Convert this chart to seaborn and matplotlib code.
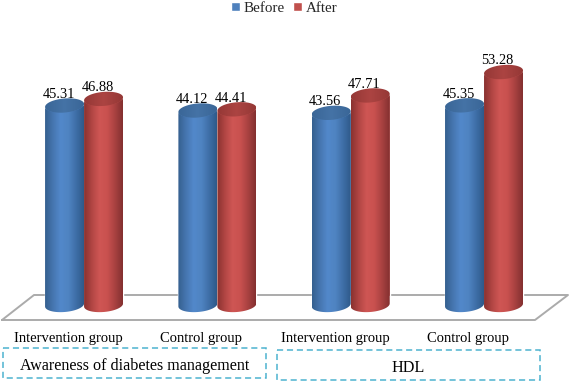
import numpy as np
import pandas as pd
import matplotlib
matplotlib.use("Agg")
import matplotlib.pyplot as plt
import seaborn as sns
from matplotlib.colors import LinearSegmentedColormap
from matplotlib.lines import Line2D
from matplotlib.patches import Polygon, Rectangle
from matplotlib.transforms import Affine2D, ScaledTranslation

groups = ["Intervention group", "Control group", "Intervention group ", "Control group "]
before = [45.31, 44.12, 43.56, 45.35]
after = [46.88, 44.41, 47.71, 53.28]
series = ["Before", "After"]
palette = {"Before": "#4F81BD", "After": "#C0504D"}
box_labels = ["Awareness of diabetes management", "HDL"]

W, H = 569, 381

df = pd.DataFrame({
    "group": groups * 2,
    "value": before + after,
    "series": ["Before"] * 4 + ["After"] * 4,
})

sns.set_theme(style="white")
plt.rcParams["font.family"] = ["Liberation Serif", "DejaVu Serif"]

fig = plt.figure(figsize=(W / 100, H / 100), dpi=100)
# pixel coords (y down) for the decoration
px = Affine2D().scale(1 / W, -1 / H).translate(0, 1) + fig.transFigure

# 4.2 px per unit, 53.28 sits at y=72
top_px, bottom_px = 40, 325
ax = fig.add_axes([17.4 / W, 1 - bottom_px / H, 533.3 / W, (bottom_px - top_px) / H])
ax.patch.set_visible(False)

sns.barplot(data=df, x="group", y="value", hue="series", hue_order=series,
            palette=palette, width=0.585, gap=0, saturation=1, dodge=True, ax=ax)

ax.set_xlim(-0.5, 3.5)
ylim = (53.28 - (bottom_px - 72) / 4.2, 53.28 + (72 - top_px) / 4.2)
ax.set_ylim(*ylim)
ax.set_xlabel("")
ax.set_ylabel("")
ax.set_yticks([])
ax.tick_params(axis="x", length=0, pad=5, labelsize=10.5, colors="black")
# the labels sit left of the bars in the original
for lab, dx in zip(ax.get_xticklabels(), [-16, -16, -14, -14]):
    lab.set_transform(lab.get_transform() + ScaledTranslation(dx / 100, 0, fig.dpi_scale_trans))
sns.despine(ax=ax, left=True, bottom=True)

blue_body = LinearSegmentedColormap.from_list("b", ["#35608F", "#4676B0", "#5288CA", "#4F84C2", "#3F6FA8", "#2F5A8A"])
red_body = LinearSegmentedColormap.from_list("r", ["#8A3230", "#B24644", "#CF5654", "#C9514F", "#A94241", "#843030"])
blue_top = LinearSegmentedColormap.from_list("bt", ["#3A6697", "#4573A6", "#3A6697"])
red_top = LinearSegmentedColormap.from_list("rt", ["#953836", "#AC4442", "#953836"])

grad = np.linspace(0, 1, 64).reshape(1, -1)
floor = 53.28 - (305 - 72) / 4.2
ry = 7 / 4.2     # ellipse half height, data units
tilt = 1.5 / 4.2
t = np.linspace(0, np.pi, 40)

bars = [p for p in ax.patches if p.get_height() > 0]
for i, bar in enumerate(bars):
    x0, w, v = bar.get_x(), bar.get_width(), bar.get_height()
    cx = x0 + w / 2
    is_blue = i < len(before)
    ex = cx - w / 2 * np.cos(t)          # left to right
    lower = -ry * np.sin(t) + tilt * (ex - cx) / (w / 2)
    upper = ry * np.sin(t) + tilt * (ex - cx) / (w / 2)

    # body: straight sides, rounded bottom and top
    body = np.vstack([
        np.column_stack([ex, floor + lower]),
        np.column_stack([ex[::-1], v + lower[::-1]]),
    ])
    cap = np.vstack([
        np.column_stack([ex, v + lower]),
        np.column_stack([ex[::-1], v + upper[::-1]]),
    ])
    z = 3 + i * 0.01
    for verts, cmap, order in [(body, blue_body if is_blue else red_body, z),
                               (cap, blue_top if is_blue else red_top, z + 0.001)]:
        img = ax.imshow(grad, cmap=cmap, aspect="auto", zorder=order,
                        extent=[x0, x0 + w, floor - 3, v + 3], clip_on=True)
        clip = Polygon(verts, closed=True, transform=ax.transData, facecolor="none", edgecolor="none")
        ax.add_patch(clip)
        img.set_clip_path(clip)

    ax.text(cx - 0.045, v + 1.8, f"{v:.2f}", ha="center", va="baseline",
            fontsize=10.4, color="black", zorder=10)

ax.set_xlim(-0.5, 3.5)
ax.set_ylim(*ylim)

handles = [Rectangle((0, 0), 1, 1, facecolor=palette[s]) for s in series]
ax.get_legend().remove()
fig.legend(handles, series, loc="upper center", bbox_to_anchor=(0.4995, 1.031), ncol=2, frameon=False,
           fontsize=10.8, handlelength=0.6, handleheight=0.6, handletextpad=0.25, columnspacing=0.5)

# floor of the chart
fig.add_artist(Line2D([2, 535, 568, 34, 2], [320, 320, 295, 295, 320], transform=px,
                      color="#ABABAB", lw=1.4, zorder=-1))

# dashed group boxes
for (x, y, w, h), label in zip([(3, 348, 263, 30), (277, 350, 263, 30)], box_labels):
    fig.add_artist(Rectangle((x, y), w, h, transform=px, fill=False, edgecolor="#4DB3CF",
                             lw=1.1, linestyle=(0, (4, 2.5))))
    fig.text((x + w / 2) / W, 1 - (y + h / 2 + 2.5) / H, label, ha="center", va="center",
             fontsize=11.6, color="black")

fig.savefig("out.png", dpi=100)
